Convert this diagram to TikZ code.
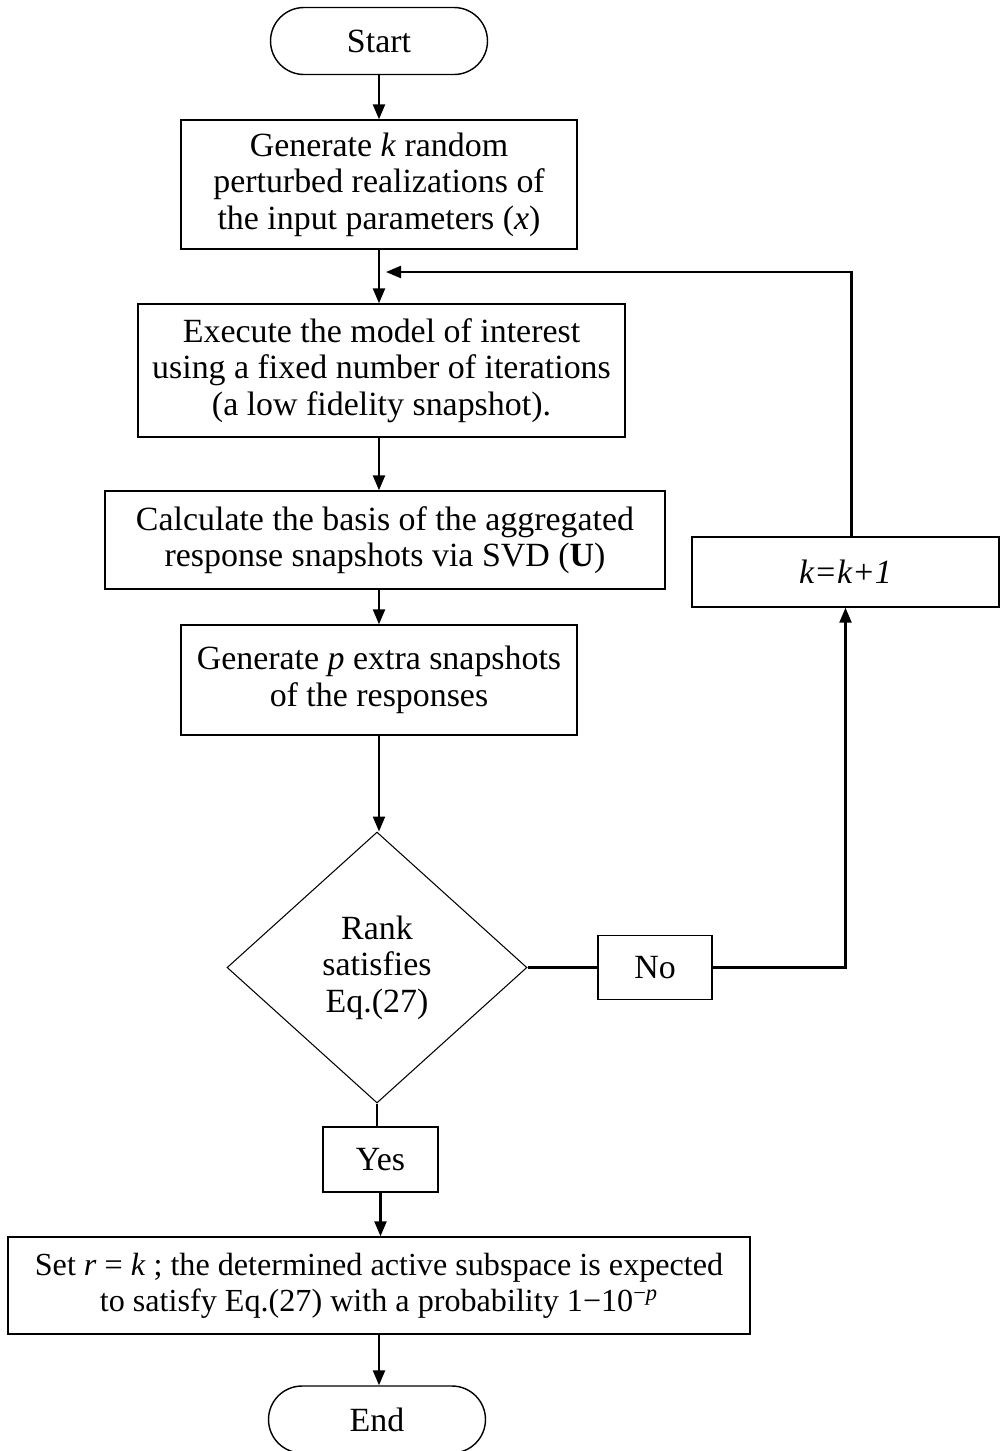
\documentclass[tikz,border=0pt]{standalone}
\usepackage{fontspec}
\setmainfont{Liberation Serif}
\usetikzlibrary{arrows.meta,shapes.geometric}

\begin{document}
\begin{tikzpicture}[x=0.02cm,y=-0.02cm,
	every node/.style={font=\fontsize{19.3}{20.7}\selectfont, align=center, inner sep=0pt},
	block/.style={draw, line width=0.8pt},
	term/.style={draw, line width=0.8pt, rounded corners=0.67cm, minimum width=4.34cm, minimum height=1.34cm},
	decide/.style={draw, diamond, line width=0.6pt, minimum width=6cm, minimum height=5.42cm},
	flow/.style={line width=1.3pt, -{Triangle[length=0.3cm,width=0.24cm]}},
	link/.style={line width=1.3pt}]
			\useasboundingbox (0,0) rectangle (1000,1451);
			
			\node[term] (start) at (379,41) {Start};
			\node[block, minimum width=7.92cm, minimum height=2.58cm] (gen) at (379,184.5) {Generate \textit{k} random\\perturbed realizations of\\the input parameters (\textit{x})};
			\node[block, minimum width=9.74cm, minimum height=2.66cm] (exec) at (381.5,370.5) {Execute the model of interest\\using a fixed number of iterations\\(a low fidelity snapshot).};
			\node[block, minimum width=11.2cm, minimum height=1.96cm] (basis) at (385,540) {Calculate the basis of the aggregated\\response snapshots via SVD (\textbf{U})};
			\node[block, minimum width=6.14cm, minimum height=1.4cm] (incr) at (845.5,572) {\textit{k=k+1}};
			\node[block, minimum width=7.92cm, minimum height=2.2cm] (extra) at (379,680) {Generate \textit{p} extra snapshots\\of the responses};
			\node[decide] (rank) at (377,967.5) {Rank\\satisfies\\Eq.(27)};
			\node[block, minimum width=2.28cm, minimum height=1.28cm] (no) at (655,967.5) {No};
			\node[block, minimum width=2.3cm, minimum height=1.3cm] (yes) at (380.5,1159.5) {Yes};
			\node[block, minimum width=14.84cm, minimum height=1.94cm, font=\fontsize{18.3}{20.7}\selectfont] (setr) at (379,1285.5) {Set \textit{r} = \textit{k} ; the determined active subspace is expected\\to satisfy Eq.(27) with a probability 1−10\textsuperscript{−\textit{p}}};
			\node[term] (stop) at (377,1419.5) {End};
			
			\coordinate (join) at (386,272);
			
			\draw[flow] (start) -- (start |- gen.north);
			\draw[flow] (gen.south) -- (gen.south |- exec.north);
			\draw[flow] (exec.south -| gen) -- (gen |- basis.north);
			\draw[flow] (basis.south -| gen) -- (gen |- extra.north);
			\draw[flow] (extra.south) -- (extra.south |- rank.north);
			\draw[link] (rank.south) -- (rank.south |- yes.north);
			\draw[flow] (yes.south) -- (yes.south |- setr.north);
			\draw[flow] (setr.south) -- (setr.south |- stop.north);
			
			\draw[link] (rank.east) -- (no.west);
			\draw[flow] (no.east) -| (incr.south);
			\draw[flow] ([xshift=0.12cm]incr.north) |- (join);
		\end{tikzpicture}
\end{document}
